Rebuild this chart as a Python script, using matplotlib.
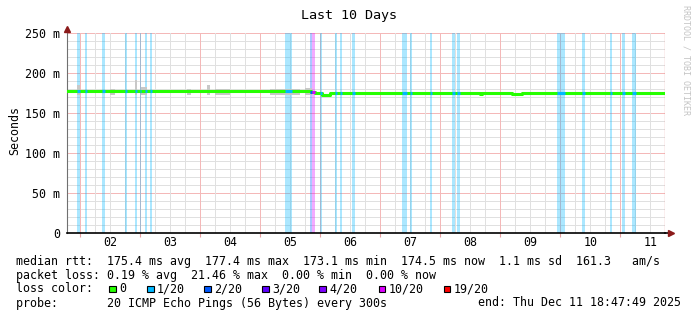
import matplotlib
matplotlib.use("Agg")
import matplotlib.pyplot as plt
import numpy as np

# time axis: days since Dec 01 00:00, window ends Thu Dec 11 18:47:49
t_start = 0.7832
t_end = 10.75

# median rtt (ms), step function: value holds from med_t[i] to med_t[i+1]
med_t = [0.7832, 4.80, 4.85, 4.917, 5.033, 5.167, 7.67, 7.70, 8.20, 8.37, 10.75]
med_v = [177.0, 178.0, 176.0, 175.0, 173.1, 174.4, 173.4, 174.4, 173.5, 174.4]

# loss periods (start, end, lost pings out of 20)
loss_start = [0.950, 1.083, 1.367, 1.750, 1.917, 2.000, 2.083, 2.167, 4.417, 4.833, 4.867,
              5.000, 5.250, 5.333, 5.533, 6.367, 6.500, 6.833, 7.200, 7.283, 8.950,
              9.367, 9.833, 10.033, 10.200]
loss_end = [1.000, 1.117, 1.417, 1.783, 1.950, 2.017, 2.117, 2.200, 4.533, 4.867, 4.917,
            5.033, 5.283, 5.367, 5.583, 6.450, 6.533, 6.867, 7.250, 7.333, 9.083,
            9.417, 9.867, 10.083, 10.267]
loss_lvl = [1, 1, 1, 1, 1, 1, 1, 1, 1, 2, 10,
            1, 1, 1, 1, 1, 1, 1, 1, 1, 1,
            1, 1, 1, 1]

# smoke spikes above the median (start, end, top ms)
smoke_start = [0.950, 1.500, 1.917, 2.017, 2.783, 3.117, 3.250, 4.167, 4.750]
smoke_end = [1.000, 1.583, 1.950, 2.117, 2.850, 3.167, 3.500, 4.667, 4.867]
smoke_top = [185.0, 180.0, 191.0, 183.0, 180.0, 185.0, 180.0, 179.5, 181.0]

loss_names = ["0", "1/20", "2/20", "3/20", "4/20", "10/20", "19/20"]
loss_colors = ["#26ff00", "#00b8ff", "#0059ff", "#5e00ff", "#7e00ff", "#dd00ff", "#ff0000"]
lvl_color = {0: "#26ff00", 1: "#00b8ff", 2: "#0059ff", 3: "#5e00ff", 4: "#7e00ff",
             10: "#dd00ff", 19: "#ff0000"}

day_labels = ["02", "03", "04", "05", "06", "07", "08", "09", "10", "11"]

W, H = 697, 321
mono = "DejaVu Sans Mono"
plt.rcParams["font.family"] = mono

fig = plt.figure(figsize=(W / 100, H / 100), dpi=100)
ax = fig.add_axes([67 / W, (H - 233) / H, 598.3 / W, 200 / H])
ax.set_xlim(t_start, t_end)
ax.set_ylim(0, 250)


def fx(x):
    return x / W


def fy(y):
    return 1 - y / H


# grid
for v in range(0, 251, 10):
    if v % 50 == 0:
        ax.axhline(v, color="#f4b8b8", lw=0.72, zorder=0)
    else:
        ax.axhline(v, color="#e0e0e0", lw=0.72, zorder=0)
for q in np.arange(1.0, 10.8, 0.25):
    if abs(q - round(q)) < 1e-6:
        ax.axvline(q, color="#f4b8b8", lw=0.72, zorder=0)
    else:
        ax.axvline(q, color="#e0e0e0", lw=0.72, zorder=0)
ax.axvline(t_end, color="#e08080", lw=0.9, zorder=0)

# loss background
for s, e, l in zip(loss_start, loss_end, loss_lvl):
    ax.axvspan(s, e, color=lvl_color[l], alpha=0.33, lw=0, zorder=1)

# smoke
for s, e, top in zip(smoke_start, smoke_end, smoke_top):
    ax.fill_between([s, e], 172, top, color="#c8c8c8", lw=0, zorder=2)

# median line
ax.step(med_t, med_v + [med_v[-1]], where="post", color="#26ff00", lw=2.2, zorder=3)


def med_at(t):
    i = np.searchsorted(med_t, t, side="right") - 1
    return med_v[min(max(i, 0), len(med_v) - 1)]


for s, e, l in zip(loss_start, loss_end, loss_lvl):
    ax.plot([s, e], [med_at((s + e) / 2)] * 2, color=lvl_color[l], lw=2.2,
            solid_capstyle="butt", zorder=4)

# axes
for sp in ["top", "right"]:
    ax.spines[sp].set_visible(False)
ax.spines["left"].set_color("#707070")
ax.spines["bottom"].set_color("black")
ax.spines["bottom"].set_linewidth(1.2)
ax.set_yticks([0, 50, 100, 150, 200, 250])
ax.set_yticklabels(["0", "50 m", "100 m", "150 m", "200 m", "250 m"], fontsize=8.4)
ax.tick_params(axis="y", length=0, pad=5)
ax.set_xticks(np.arange(1, 11))
ax.set_xticklabels([])
ax.tick_params(axis="x", length=3, color="#e8a0a0", direction="out")
for i, lab in enumerate(day_labels):
    ax.text(1.5 + i, -3.2, lab, ha="center", va="top", fontsize=8.4, fontfamily=mono)

# arrows
ax.plot([t_start], [255.5], marker="^", color="#8b1a1a", ms=4, clip_on=False, zorder=5)
ax.plot([10.842], [0], marker=">", color="#8b1a1a", ms=4, clip_on=False, zorder=5)
ax.plot([t_end, 10.84], [0, 0], color="black", lw=1.2, clip_on=False)

# title and labels
fig.text(fx(349), fy(16), "Last 10 Days", ha="center", va="center", fontsize=9.6)
fig.text(fx(15), fy(131), "Seconds", rotation=90, ha="center", va="center", fontsize=8.4)
fig.text(fx(686), fy(60), "RRDTOOL / TOBI OETIKER", rotation=270, ha="center",
         va="center", fontsize=6.0, color="#c4c4c4")

fs = 8.4
fig.text(fx(16), fy(261), "median rtt:  175.4 ms avg  177.4 ms max  173.1 ms min  "
         "174.5 ms now  1.1 ms sd  161.3   am/s", va="center", fontsize=fs)
fig.text(fx(16), fy(275), "packet loss: 0.19 % avg  21.46 % max  0.00 % min  0.00 % now",
         va="center", fontsize=fs)
fig.text(fx(16), fy(289), "loss color:", va="center", fontsize=fs)
sq_x = [109, 147, 204, 262, 319, 379, 444]
for x0, name, c in zip(sq_x, loss_names, loss_colors):
    fig.patches.append(plt.Rectangle((fx(x0), fy(292)), 6.5 / W, 6.5 / H, facecolor=c,
                                     edgecolor="black", lw=0.8, transform=fig.transFigure,
                                     figure=fig))
    fig.text(fx(x0 + 10), fy(289), name, va="center", fontsize=fs)
fig.text(fx(16), fy(303), "probe:       20 ICMP Echo Pings (56 Bytes) every 300s",
         va="center", fontsize=fs)
fig.text(fx(478), fy(303), "end: Thu Dec 11 18:47:49 2025", va="center", fontsize=fs)

fig.savefig("out.png", dpi=100)
